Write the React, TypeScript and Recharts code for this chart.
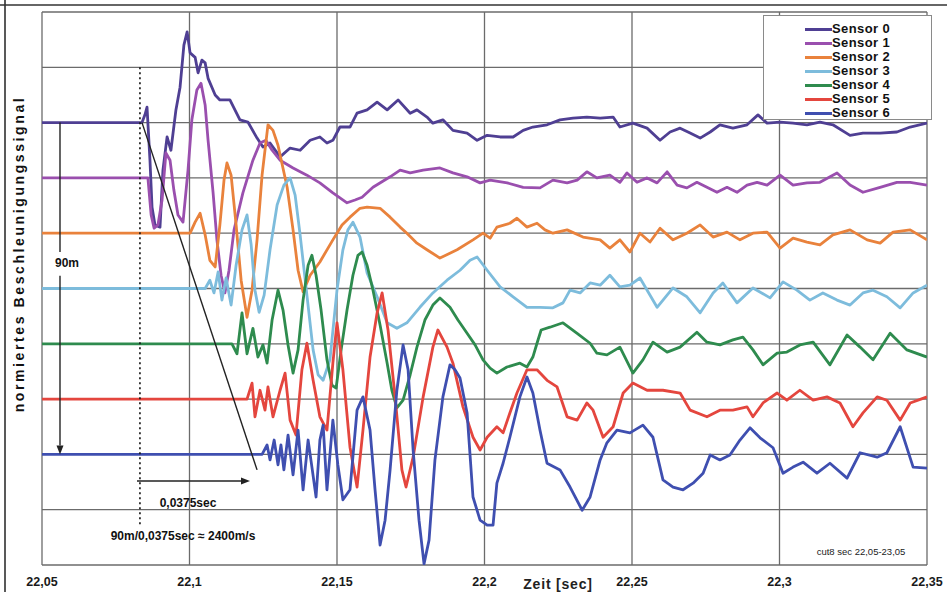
import { LineChart, Line, XAxis, YAxis, CartesianGrid, ReferenceLine } from "recharts";

// time [s] / normalized signal (baseline offset included)
const SENSOR_0: [number, number][] = [
  [22.05, 8.0], [22.0839, 8.0], [22.0849, 8.14], [22.0856, 8.28], [22.0866, 7.32], [22.0873, 6.47],
  [22.0883, 6.15], [22.09, 6.11], [22.091, 7.14], [22.0924, 7.74], [22.0937, 7.5], [22.0954, 8.23],
  [22.0968, 8.64], [22.0981, 9.4], [22.0992, 9.64], [22.1002, 9.26], [22.1019, 9.18], [22.1029, 8.9],
  [22.1042, 9.13], [22.1053, 9.08], [22.1063, 8.8], [22.1087, 8.5], [22.1103, 8.41], [22.1137, 8.41],
  [22.1171, 8.05], [22.1198, 8.01], [22.1229, 7.72], [22.1249, 7.56], [22.1273, 7.63], [22.1307, 7.38],
  [22.1341, 7.54], [22.1375, 7.5], [22.1409, 7.68], [22.1442, 7.74], [22.1466, 7.63], [22.1486, 7.68],
  [22.151, 7.92], [22.1544, 7.92], [22.1568, 8.17], [22.1602, 8.23], [22.1636, 8.37], [22.167, 8.23],
  [22.1707, 8.41], [22.1748, 8.17], [22.1771, 8.23], [22.1805, 8.1], [22.1825, 7.99], [22.1859, 8.05],
  [22.1893, 7.86], [22.1941, 7.81], [22.1975, 7.68], [22.2009, 7.77], [22.2053, 7.74], [22.2097, 7.74],
  [22.2131, 7.86], [22.2164, 7.92], [22.2212, 7.96], [22.2256, 8.05], [22.23, 8.08], [22.2347, 8.1],
  [22.2392, 8.08], [22.2436, 8.1], [22.2459, 7.92], [22.2503, 7.99], [22.2551, 7.9], [22.2595, 7.68],
  [22.2629, 7.83], [22.2663, 7.9], [22.2697, 7.81], [22.2731, 7.72], [22.2765, 7.83], [22.2798, 7.96],
  [22.2842, 7.9], [22.289, 7.96], [22.2927, 8.14], [22.2958, 7.99], [22.3002, 8.01], [22.3046, 7.99],
  [22.3093, 7.96], [22.3137, 8.01], [22.3181, 7.96], [22.3239, 7.77], [22.3283, 7.81], [22.3341, 7.81],
  [22.3398, 7.83], [22.3443, 7.92], [22.35, 7.99],
];

const SENSOR_1: [number, number][] = [
  [22.05, 7.0], [22.0859, 7.0], [22.087, 6.33], [22.088, 6.09], [22.0893, 6.15], [22.0907, 6.6],
  [22.092, 7.45], [22.0934, 7.32], [22.0947, 6.78], [22.0961, 6.33], [22.0978, 6.2], [22.0995, 7.14],
  [22.1008, 8.05], [22.1025, 8.59], [22.1039, 8.71], [22.1053, 8.32], [22.1063, 7.68], [22.108, 6.73],
  [22.1093, 5.88], [22.1107, 5.24], [22.112, 4.92], [22.1134, 5.33], [22.1151, 6.06], [22.1181, 6.73],
  [22.1215, 7.32], [22.1239, 7.63], [22.1259, 7.68], [22.128, 7.5], [22.1307, 7.32], [22.1351, 7.18],
  [22.1398, 7.05], [22.1442, 6.91], [22.1486, 6.73], [22.1534, 6.55], [22.1561, 6.6], [22.1585, 6.65],
  [22.1622, 6.83], [22.168, 7.02], [22.1714, 7.14], [22.1748, 7.09], [22.1792, 7.14], [22.1849, 7.18],
  [22.1893, 7.09], [22.1941, 7.02], [22.1985, 6.91], [22.2019, 6.96], [22.2077, 6.91], [22.2131, 6.83],
  [22.2188, 6.82], [22.2232, 6.96], [22.228, 6.91], [22.2314, 6.96], [22.2347, 7.11], [22.2381, 7.0],
  [22.2425, 7.05], [22.2459, 6.92], [22.2483, 7.09], [22.2517, 6.92], [22.2551, 7.0], [22.2585, 6.91],
  [22.2619, 7.11], [22.2653, 6.87], [22.2686, 6.82], [22.272, 6.92], [22.2754, 6.83], [22.2788, 6.74],
  [22.2822, 6.83], [22.2856, 6.74], [22.289, 6.87], [22.2924, 6.92], [22.2958, 6.87], [22.3002, 7.05],
  [22.3046, 6.87], [22.3093, 6.91], [22.3137, 6.92], [22.3195, 7.09], [22.3239, 6.87], [22.3283, 6.74],
  [22.3341, 6.83], [22.3398, 6.92], [22.3443, 6.92], [22.35, 6.87],
];

const SENSOR_2: [number, number][] = [
  [22.05, 6.0], [22.1002, 6.0], [22.1019, 6.2], [22.1036, 6.36], [22.1053, 5.97], [22.1069, 5.51],
  [22.1087, 5.39], [22.1103, 6.15], [22.1117, 6.96], [22.1127, 7.27], [22.1141, 7.05], [22.1158, 6.15],
  [22.1175, 5.15], [22.1195, 4.48], [22.1212, 4.97], [22.1229, 5.88], [22.1246, 7.05], [22.1266, 7.96],
  [22.1283, 7.86], [22.13, 7.59], [22.1331, 6.83], [22.1351, 6.06], [22.1368, 5.33], [22.1385, 4.94],
  [22.1409, 5.24], [22.1442, 5.48], [22.1486, 5.88], [22.1517, 6.15], [22.1544, 6.29], [22.1578, 6.45],
  [22.1602, 6.47], [22.1646, 6.45], [22.168, 6.29], [22.1714, 6.11], [22.1737, 6.0], [22.1771, 5.82],
  [22.1805, 5.7], [22.1849, 5.55], [22.1907, 5.7], [22.1961, 5.88], [22.1995, 6.0], [22.2019, 5.91],
  [22.2042, 6.11], [22.2086, 6.18], [22.211, 6.27], [22.2144, 6.11], [22.2178, 6.18], [22.2205, 6.06],
  [22.2232, 6.0], [22.228, 6.06], [22.2334, 5.93], [22.2392, 5.88], [22.2425, 5.73], [22.2459, 5.88],
  [22.2493, 5.66], [22.2527, 6.0], [22.2561, 5.84], [22.2595, 6.09], [22.2639, 5.88], [22.2686, 6.0],
  [22.2731, 6.15], [22.2775, 5.93], [22.2822, 6.02], [22.2866, 5.88], [22.291, 6.0], [22.2958, 6.02],
  [22.3002, 5.73], [22.3046, 5.91], [22.3093, 5.84], [22.3137, 5.79], [22.3181, 5.97], [22.3239, 6.06],
  [22.3297, 5.88], [22.3341, 5.82], [22.3385, 6.02], [22.3443, 6.06], [22.35, 5.88],
];

const SENSOR_3: [number, number][] = [
  [22.05, 5.0], [22.1053, 5.0], [22.1069, 5.15], [22.1083, 4.92], [22.1097, 5.3], [22.111, 4.79],
  [22.1124, 5.19], [22.1141, 4.7], [22.1158, 5.42], [22.1178, 6.06], [22.1195, 6.33], [22.1209, 5.79],
  [22.1222, 4.97], [22.1236, 4.57], [22.1253, 4.88], [22.1273, 5.7], [22.1297, 6.51], [22.132, 6.87],
  [22.1341, 7.0], [22.1358, 6.69], [22.1375, 5.97], [22.1398, 4.88], [22.1419, 3.89], [22.1436, 3.44],
  [22.1453, 3.34], [22.1476, 3.71], [22.15, 4.97], [22.152, 5.7], [22.1537, 6.06], [22.1554, 6.2],
  [22.1578, 5.93], [22.1602, 5.28], [22.1636, 4.85], [22.167, 4.38], [22.1703, 4.28], [22.1737, 4.38],
  [22.1781, 4.66], [22.1825, 4.92], [22.1873, 5.15], [22.1917, 5.33], [22.1951, 5.51], [22.1975, 5.57],
  [22.2009, 5.33], [22.2053, 5.03], [22.2097, 4.85], [22.2144, 4.66], [22.2188, 4.66], [22.2232, 4.65],
  [22.2266, 4.74], [22.229, 4.97], [22.2324, 4.92], [22.2358, 5.1], [22.2392, 5.06], [22.2425, 5.24],
  [22.2459, 5.03], [22.2493, 5.06], [22.2527, 5.19], [22.2585, 4.66], [22.2639, 5.01], [22.2686, 4.85],
  [22.2731, 4.56], [22.2775, 4.92], [22.2808, 5.1], [22.2856, 4.74], [22.291, 5.01], [22.2968, 4.83],
  [22.3012, 5.12], [22.3059, 4.97], [22.3103, 4.79], [22.3147, 4.92], [22.3195, 4.79], [22.3239, 4.7],
  [22.3283, 4.92], [22.3317, 4.97], [22.3364, 4.85], [22.3409, 4.65], [22.3453, 4.92], [22.35, 5.06],
];

const SENSOR_4: [number, number][] = [
  [22.05, 4.0], [22.1144, 4.0], [22.1161, 3.82], [22.1178, 4.56], [22.1195, 3.82], [22.1215, 4.28],
  [22.1232, 3.76], [22.1249, 3.98], [22.1263, 3.65], [22.128, 4.43], [22.13, 4.97], [22.1317, 4.61],
  [22.1334, 3.98], [22.1351, 3.47], [22.1368, 3.89], [22.1385, 4.79], [22.1402, 5.42], [22.1415, 5.6],
  [22.1429, 5.24], [22.1446, 4.61], [22.1466, 3.71], [22.1483, 3.25], [22.1497, 3.2], [22.1514, 3.89],
  [22.1534, 4.61], [22.1554, 5.24], [22.1571, 5.6], [22.1585, 5.66], [22.1602, 5.42], [22.1622, 4.97],
  [22.1646, 4.34], [22.167, 3.65], [22.1686, 3.16], [22.1703, 2.84], [22.1724, 2.98], [22.1748, 3.44],
  [22.1771, 3.94], [22.1798, 4.43], [22.1825, 4.7], [22.1849, 4.83], [22.1883, 4.66], [22.191, 4.43],
  [22.1941, 4.19], [22.1968, 3.98], [22.1995, 3.71], [22.2019, 3.56], [22.2042, 3.47], [22.2076, 3.58],
  [22.212, 3.65], [22.2144, 3.58], [22.2164, 3.76], [22.2178, 4.01], [22.2192, 4.25], [22.2222, 4.3],
  [22.2266, 4.38], [22.2314, 4.19], [22.2358, 4.01], [22.2381, 3.83], [22.2415, 3.8], [22.2459, 3.94],
  [22.2503, 3.47], [22.2537, 3.71], [22.2571, 4.03], [22.2619, 3.85], [22.2663, 3.94], [22.272, 4.21],
  [22.2754, 4.03], [22.2798, 3.98], [22.2842, 4.07], [22.2876, 4.12], [22.291, 3.89], [22.2944, 3.62],
  [22.2992, 3.83], [22.3025, 3.85], [22.3069, 3.98], [22.3114, 4.03], [22.3171, 3.62], [22.3229, 4.16],
  [22.3273, 3.94], [22.3317, 3.71], [22.3375, 4.19], [22.3432, 3.89], [22.35, 3.76],
];

const SENSOR_5: [number, number][] = [
  [22.05, 3.0], [22.1195, 3.0], [22.1212, 3.29], [22.1222, 2.68], [22.1239, 3.16], [22.1256, 2.8],
  [22.1266, 3.22], [22.1283, 2.68], [22.1307, 3.16], [22.1324, 3.47], [22.1341, 2.62], [22.1361, 2.35],
  [22.1381, 3.53], [22.1398, 4.01], [22.1419, 3.34], [22.1442, 2.68], [22.1466, 2.44], [22.1486, 3.65],
  [22.15, 4.38], [22.152, 3.53], [22.1544, 2.13], [22.1568, 1.41], [22.1588, 2.44], [22.1612, 3.76],
  [22.1636, 4.56], [22.1653, 4.92], [22.1673, 4.25], [22.1697, 3.04], [22.172, 1.72], [22.1734, 1.41],
  [22.1758, 1.95], [22.1792, 3.04], [22.1825, 3.94], [22.1842, 4.25], [22.1873, 3.94], [22.1893, 3.65],
  [22.1927, 2.86], [22.1961, 2.31], [22.1985, 2.08], [22.2009, 2.31], [22.2042, 2.5], [22.2063, 2.39],
  [22.2086, 2.75], [22.211, 3.11], [22.2144, 3.53], [22.2178, 3.53], [22.2212, 3.34], [22.2246, 3.22],
  [22.228, 2.68], [22.2314, 2.62], [22.2347, 2.93], [22.2368, 2.8], [22.2402, 2.31], [22.2436, 2.5],
  [22.247, 3.11], [22.2503, 3.29], [22.2551, 3.16], [22.2605, 3.16], [22.2663, 3.11], [22.2697, 2.8],
  [22.2754, 2.68], [22.2798, 2.8], [22.2842, 2.8], [22.289, 2.86], [22.291, 2.68], [22.2944, 2.93],
  [22.2992, 3.11], [22.3025, 2.98], [22.3069, 3.16], [22.3114, 2.98], [22.3161, 3.04], [22.3205, 2.93],
  [22.3249, 2.5], [22.3283, 2.75], [22.3331, 3.04], [22.3364, 2.98], [22.3409, 2.62], [22.3443, 2.93],
  [22.35, 3.04],
];

const SENSOR_6: [number, number][] = [
  [22.05, 2.0], [22.1246, 2.0], [22.1263, 2.17], [22.1273, 1.9], [22.1287, 2.26], [22.13, 1.81],
  [22.131, 2.17], [22.132, 1.72], [22.1334, 2.35], [22.1351, 1.63], [22.1368, 2.44], [22.1385, 1.36],
  [22.1402, 2.26], [22.1415, 1.77], [22.1429, 1.23], [22.1442, 2.26], [22.1453, 2.53], [22.1466, 1.36],
  [22.1486, 2.62], [22.1503, 1.81], [22.152, 1.18], [22.1544, 1.36], [22.1568, 2.8], [22.1588, 3.04],
  [22.1612, 2.44], [22.1629, 1.36], [22.1646, 0.36], [22.1663, 0.81], [22.168, 1.72], [22.1703, 3.16],
  [22.1724, 3.98], [22.1741, 3.53], [22.1758, 2.08], [22.1778, 0.81], [22.1795, 0.02], [22.1812, 0.45],
  [22.1832, 1.9], [22.1859, 3.04], [22.1883, 3.62], [22.19, 3.53], [22.1917, 3.38], [22.1941, 2.75],
  [22.1961, 1.23], [22.1985, 0.81], [22.2009, 0.72], [22.2029, 0.72], [22.2042, 1.48], [22.2063, 1.84],
  [22.2086, 2.31], [22.212, 3.04], [22.2144, 3.4], [22.2164, 3.11], [22.2188, 2.44], [22.2212, 1.84],
  [22.2256, 1.72], [22.229, 1.41], [22.2331, 0.99], [22.2358, 1.23], [22.2392, 1.9], [22.2415, 2.21],
  [22.2449, 2.44], [22.2493, 2.39], [22.2537, 2.53], [22.2571, 2.31], [22.2605, 1.54], [22.2639, 1.41],
  [22.2673, 1.36], [22.2707, 1.48], [22.2741, 1.66], [22.2765, 1.99], [22.2798, 1.9], [22.2832, 1.99],
  [22.2866, 2.26], [22.29, 2.48], [22.2934, 2.3], [22.2978, 2.12], [22.3012, 1.66], [22.3046, 1.77],
  [22.308, 1.86], [22.3127, 1.66], [22.3171, 1.84], [22.3229, 1.57], [22.3273, 2.03], [22.3331, 1.95],
  [22.3364, 2.03], [22.3409, 2.5], [22.3453, 1.77], [22.35, 1.75],
];

const SENSOR_NAMES = ["Sensor 0", "Sensor 1", "Sensor 2", "Sensor 3", "Sensor 4", "Sensor 5", "Sensor 6"];
const SENSOR_DATA = [SENSOR_0, SENSOR_1, SENSOR_2, SENSOR_3, SENSOR_4, SENSOR_5, SENSOR_6];
const COLORS = ["#4f3f93", "#9a4fae", "#e9823c", "#7dbcdc", "#2e8b4e", "#e4463e", "#3f4fb0"];

const X_TICKS = [22.05, 22.1, 22.15, 22.2, 22.25, 22.3, 22.35];
const Y_LINES = [0, 1, 2, 3, 4, 5, 6, 7, 8, 9, 10];

const FONT = '"Liberation Sans", Arial, sans-serif';

const series = SENSOR_DATA.map((arr) => arr.map(([t, v]) => ({ t, v })));

function PlainLine(p: any) {
  return <line x1={p.x1} y1={p.y1} x2={p.x2} y2={p.y2} stroke={p.stroke} strokeWidth={p.strokeWidth} strokeDasharray={p.strokeDasharray} />;
}

function ArrowLine(p: any) {
  const { x1, y1, x2, y2 } = p;
  const a = Math.atan2(y2 - y1, x2 - x1);
  const L = 9;
  const W = 3.5;
  const bx = x2 - L * Math.cos(a);
  const by = y2 - L * Math.sin(a);
  const pts = [
    `${x2},${y2}`,
    `${bx - W * Math.sin(a)},${by + W * Math.cos(a)}`,
    `${bx + W * Math.sin(a)},${by - W * Math.cos(a)}`,
  ].join(" ");
  return (
    <g>
      <line x1={x1} y1={y1} x2={bx} y2={by} stroke={p.stroke} strokeWidth={p.strokeWidth} />
      <polygon points={pts} fill={p.stroke} />
    </g>
  );
}

function TimeTick(props: any) {
  const { x, y, payload } = props;
  const label = String(Math.round(payload.value * 100) / 100).replace(".", ",");
  return (
    <text x={x} y={y + 21} textAnchor="middle" fontFamily={FONT} fontSize={12.5} fontWeight="bold" fill="#1a1a1a">
      {label}
    </text>
  );
}

export default function App() {
  return (
    <div style={{ position: "absolute", left: 0, top: 0, width: 947, height: 592, background: "#fff", fontFamily: FONT }}>
      <LineChart width={947} height={592} margin={{ top: 12, right: 20, bottom: 0, left: 42 }}>
        <CartesianGrid
          stroke="#6b6b6b"
          strokeWidth={1.3}
          horizontalValues={Y_LINES}
          verticalValues={X_TICKS}
        />
        <XAxis
          dataKey="t"
          type="number"
          domain={[22.05, 22.35]}
          ticks={X_TICKS}
          allowDataOverflow
          axisLine={false}
          tickLine={false}
          tickSize={0}
          tickMargin={0}
          height={27}
          tick={<TimeTick />}
          interval={0}
        />
        <YAxis hide type="number" domain={[0, 10]} ticks={Y_LINES} allowDataOverflow />
        {series.map((d, i) => (
          <Line
            key={SENSOR_NAMES[i]}
            data={d}
            dataKey="v"
            name={SENSOR_NAMES[i]}
            type="linear"
            stroke={COLORS[i]}
            strokeWidth={2.8}
            strokeLinejoin="round"
            dot={false}
            activeDot={false}
            isAnimationActive={false}
          />
        ))}
        {/* velocity annotation */}
        <ReferenceLine
          segment={[{ x: 22.0832, y: 9.0 }, { x: 22.0832, y: 0.72 }]}
          stroke="#111"
          strokeWidth={1.6}
          strokeDasharray="2 3"
          shape={PlainLine}
        />
        <ReferenceLine
          segment={[{ x: 22.0839, y: 8.0 }, { x: 22.1229, y: 1.72 }]}
          stroke="#222"
          strokeWidth={1.4}
          shape={PlainLine}
        />
        <ReferenceLine
          segment={[{ x: 22.0822, y: 1.52 }, { x: 22.1205, y: 1.52 }]}
          stroke="#222"
          strokeWidth={1.4}
          shape={ArrowLine}
        />
        <ReferenceLine
          segment={[{ x: 22.0561, y: 8.0 }, { x: 22.0561, y: 5.66 }]}
          stroke="#222"
          strokeWidth={1.4}
          shape={PlainLine}
        />
        <ReferenceLine
          segment={[{ x: 22.0561, y: 5.23 }, { x: 22.0561, y: 2.0 }]}
          stroke="#222"
          strokeWidth={1.4}
          shape={ArrowLine}
        />
      </LineChart>

      <svg width={947} height={592} style={{ position: "absolute", left: 0, top: 0, pointerEvents: "none" }}>
        <line x1={5} y1={0} x2={5} y2={592} stroke="#222" strokeWidth={1.5} />
        <line x1={0} y1={5} x2={947} y2={5} stroke="#333" strokeWidth={1.3} />
        <text
          x={19}
          y={254}
          transform="rotate(-90 19 254)"
          textAnchor="middle"
          dominantBaseline="central"
          fontFamily={FONT}
          fontSize={14}
          fontWeight="bold"
          letterSpacing={2.6}
          fill="#111"
        >
          normiertes Beschleunigungssignal
        </text>
        <text x={67} y={267} textAnchor="middle" fontFamily={FONT} fontSize={12} fontWeight="bold" fill="#111">
          90m
        </text>
        <text x={188} y={507} textAnchor="middle" fontFamily={FONT} fontSize={12} fontWeight="bold" fill="#111">
          0,0375sec
        </text>
        <text x={183} y={540} textAnchor="middle" fontFamily={FONT} fontSize={12} fontWeight="bold" fill="#111">
          90m/0,0375sec ≈ 2400m/s
        </text>
        <text x={861} y={555} textAnchor="middle" fontFamily={FONT} fontSize={9.5} fill="#222">
          cut8 sec 22,05-23,05
        </text>
        <text x={558} y={589} textAnchor="middle" fontFamily={FONT} fontSize={14} fontWeight="bold" letterSpacing={0.8} fill="#222">
          Zeit [sec]
        </text>
      </svg>

      <div
        style={{
          position: "absolute",
          left: 763,
          top: 15,
          width: 169,
          height: 105,
          background: "#fff",
          border: "1px solid #8a8a8a",
          boxSizing: "border-box",
        }}
      >
        {SENSOR_NAMES.map((name, i) => (
          <div key={name} style={{ position: "absolute", left: 0, top: 6 + i * 14, height: 14, width: 169 }}>
            <div style={{ position: "absolute", left: 41, top: 6, width: 27, height: 3, background: COLORS[i] }} />
            <div
              style={{
                position: "absolute",
                left: 68,
                top: 0,
                fontSize: 13,
                lineHeight: "14px",
                height: 14,
                fontWeight: "bold",
                letterSpacing: 0.4,
                color: "#111",
                whiteSpace: "nowrap",
              }}
            >
              {name}
            </div>
          </div>
        ))}
      </div>
    </div>
  );
}
